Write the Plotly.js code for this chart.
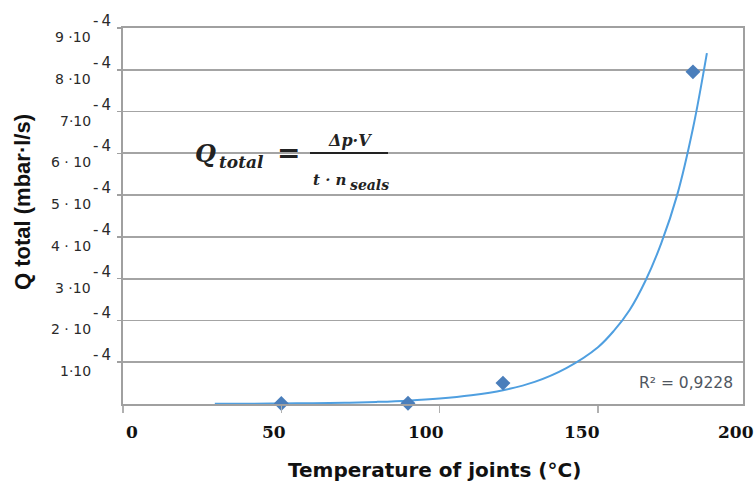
<!DOCTYPE html>
<html><head><meta charset="utf-8">
<script src="https://cdn.plot.ly/plotly-3.0.1.min.js"></script>
<style>html,body{margin:0;padding:0;background:#fff}</style>
</head><body><div id="chart" style="width:754px;height:484px"></div>
<script>
// ---- data ----
const pointTemps = [50, 90, 120, 180];
const pointQ = [0.01e-4, 0.02e-4, 0.5e-4, 7.95e-4];
const trendTemps = [29, 40, 50, 60, 70, 80, 90, 100, 110, 120, 130, 140, 150, 155, 160, 165, 170, 175, 180, 184.4];
const trendQ = [0.005e-4, 0.008e-4, 0.012e-4, 0.02e-4, 0.03e-4, 0.05e-4, 0.08e-4, 0.13e-4, 0.21e-4, 0.33e-4,
                0.53e-4, 0.86e-4, 1.36e-4, 1.75e-4, 2.25e-4, 2.95e-4, 3.85e-4, 5.0e-4, 6.6e-4, 8.4e-4];
const yTickVals = [1e-4, 2e-4, 3e-4, 4e-4, 5e-4, 6e-4, 7e-4, 8e-4, 9e-4];
const yTickText = ["1·10", "2 · 10", "3 ·10", "4 · 10", "5 · 10", "6 · 10", "7·10", "8 ·10", "9 ·10"];
const yTickExp = "-\u20094";
const xTickVals = [0, 50, 100, 150];
const xTickText = ["0", "50", "100", "150", "200"];
const r2Text = "R² = 0,9228";
const xTitle = "Temperature of joints (°C)";
const yTitle = "Q total (mbar·l/s)";

// ---- layout helpers (pixel -> paper) ----
const L = 123, T = 28, W = 620, H = 376;
const px = x => (x - L) / W;
const py = y => (T + H - y) / H;
const xLabelPix = [132, 274, 426, 582, 736];

const annotations = [];
yTickVals.forEach((v, i) => {
  annotations.push({xref: 'paper', yref: 'y', x: px(93), y: v, xanchor: 'right', yanchor: 'middle',
    yshift: -9, showarrow: false, text: yTickText[i],
    font: {family: 'DejaVu Sans', size: 14, color: '#2a2a2a'}});
  annotations.push({xref: 'paper', yref: 'y', x: px(113), y: v, xanchor: 'right', yanchor: 'middle',
    yshift: 7, showarrow: false, text: yTickExp,
    font: {family: 'DejaVu Sans', size: 15, color: '#2a2a2a'}});
});
xTickText.forEach((t, i) => {
  annotations.push({xref: 'paper', yref: 'paper', x: px(xLabelPix[i]), y: py(432), xanchor: 'center', yanchor: 'middle',
    showarrow: false, text: t, font: {family: 'DejaVu Serif', size: 17, weight: 'bold', color: '#111'}});
});
annotations.push({xref: 'paper', yref: 'paper', x: px(435), y: py(470), xanchor: 'center', yanchor: 'middle',
  showarrow: false, text: xTitle, font: {family: 'DejaVu Sans', size: 20, weight: 'bold', color: '#111'}});
annotations.push({xref: 'paper', yref: 'paper', x: px(22), y: py(202), xanchor: 'center', yanchor: 'middle',
  textangle: -90, showarrow: false, text: yTitle, font: {family: 'Liberation Sans', size: 22, weight: 'bold', color: '#111'}});
annotations.push({xref: 'paper', yref: 'paper', x: px(735), y: py(383), xanchor: 'right', yanchor: 'middle',
  showarrow: false, text: r2Text, font: {family: 'DejaVu Sans', size: 15.5, color: '#4f5660'}});
// formula
const fcol = '#222';
annotations.push({xref: 'paper', yref: 'paper', x: px(218), y: py(153), xanchor: 'right', yanchor: 'middle',
  showarrow: false, text: 'Q', font: {family: 'DejaVu Serif', size: 24, style: 'italic', weight: 'bold', color: fcol}});
annotations.push({xref: 'paper', yref: 'paper', x: px(217), y: py(162), xanchor: 'left', yanchor: 'middle',
  showarrow: false, text: 'total', font: {family: 'DejaVu Serif', size: 17, style: 'italic', weight: 'bold', color: fcol}});
annotations.push({xref: 'paper', yref: 'paper', x: px(288), y: py(152), xanchor: 'center', yanchor: 'middle',
  showarrow: false, text: '=', font: {family: 'DejaVu Serif', size: 28, weight: 'bold', color: fcol}});
annotations.push({xref: 'paper', yref: 'paper', x: px(350), y: py(140), xanchor: 'center', yanchor: 'middle',
  showarrow: false, text: 'Δp·V', font: {family: 'DejaVu Serif', size: 16, style: 'italic', weight: 'bold', color: fcol}});
annotations.push({xref: 'paper', yref: 'paper', x: px(349), y: py(180), xanchor: 'right', yanchor: 'middle',
  showarrow: false, text: 't · n', font: {family: 'DejaVu Serif', size: 15, style: 'italic', weight: 'bold', color: fcol}});
annotations.push({xref: 'paper', yref: 'paper', x: px(348), y: py(185), xanchor: 'left', yanchor: 'middle',
  showarrow: false, text: 'seals', font: {family: 'DejaVu Serif', size: 14, style: 'italic', weight: 'bold', color: fcol}});

const shapes = [
  {type: 'rect', xref: 'paper', yref: 'paper', x0: px(178), x1: px(412), y0: py(212), y1: py(100),
   fillcolor: '#fff', line: {width: 0}, layer: 'between'},
  {type: 'line', xref: 'paper', yref: 'paper', x0: px(310), x1: px(388), y0: py(153), y1: py(153),
   line: {color: fcol, width: 2.2}, layer: 'above'}
];

const traces = [
  {x: trendTemps, y: trendQ, type: 'scatter', mode: 'lines', line: {color: '#4f9fe0', width: 2, shape: 'spline'},
   hoverinfo: 'skip', cliponaxis: false},
  {x: pointTemps, y: pointQ, type: 'scatter', mode: 'markers',
   marker: {symbol: 'diamond', size: 11.5, color: '#4a7ebb'}, cliponaxis: false}
];

const layout = {
  width: 754, height: 484,
  margin: {l: L, r: 754 - L - W, t: T, b: 484 - T - H},
  paper_bgcolor: '#fff', plot_bgcolor: '#fff',
  showlegend: false,
  xaxis: {range: [0, 195.8], tickvals: xTickVals, showticklabels: false, ticks: 'outside', ticklen: 7,
    tickcolor: '#b0b0b0', tickwidth: 1.5, showgrid: false, zeroline: false,
    showline: true, linecolor: '#a0a0a0', linewidth: 2, mirror: true, fixedrange: true},
  yaxis: {range: [0, 9e-4], tickvals: yTickVals, showticklabels: false, ticks: 'outside', ticklen: 4,
    tickcolor: '#a0a0a0', tickwidth: 1.5, showgrid: true, gridcolor: '#a4a4a4', gridwidth: 1.8,
    zeroline: false, showline: true, linecolor: '#a0a0a0', linewidth: 2, mirror: true, fixedrange: true},
  annotations: annotations,
  shapes: shapes
};
Plotly.newPlot('chart', traces, layout, {displayModeBar: false, staticPlot: true});
</script></body></html>
